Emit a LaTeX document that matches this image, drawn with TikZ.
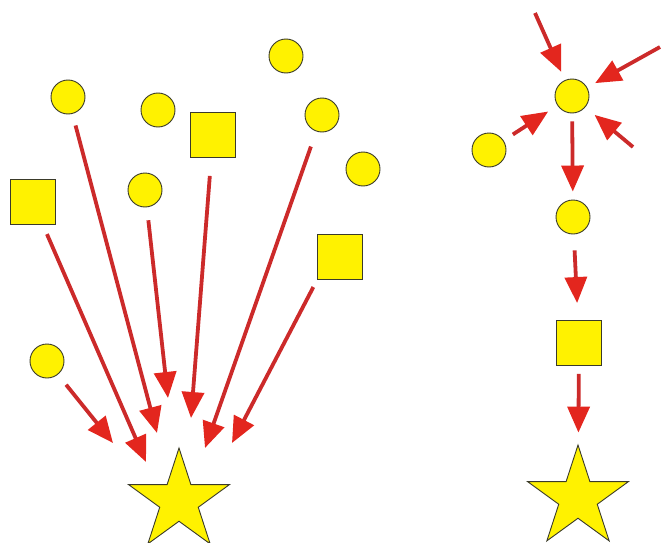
\documentclass[tikz,border=0pt]{standalone}
\usetikzlibrary{shapes.geometric,arrows.meta}
\definecolor{shapeyellow}{HTML}{FFF200}
\definecolor{lineRed}{HTML}{CC2A2A}
\definecolor{headRed}{HTML}{E3261E}
\definecolor{edgeGrey}{HTML}{3A3A2A}
\begin{document}
\begin{tikzpicture}[x=1pt,y=-1pt,
  dot/.style={circle,draw=edgeGrey,line width=0.9pt,fill=shapeyellow,minimum size=34pt,inner sep=0pt},
  sq/.style={rectangle,draw=edgeGrey,line width=0.9pt,fill=shapeyellow,minimum size=45pt,inner sep=0pt},
  bigstar/.style={star,star points=5,star point ratio=2.618,draw=edgeGrey,line width=0.9pt,fill=shapeyellow,minimum size=106pt,inner sep=0pt},
  arr/.style={draw=lineRed,line width=3.8pt,-{Triangle[length=26pt,width=22pt,color=headRed,fill=headRed]}}
]
\useasboundingbox (0,0) rectangle (661,543);
% left group
\node[dot] (A) at (68,97) {};
\node[dot] (B) at (158,110) {};
\node[sq]  (C) at (213,135) {};
\node[dot] (D) at (286,56) {};
\node[dot] (E) at (322,115) {};
\node[dot] (F) at (363,169) {};
\node[sq]  (G) at (33,202) {};
\node[dot] (H) at (145,190) {};
\node[sq]  (I) at (340,257) {};
\node[dot] (J) at (47,361) {};
\node[bigstar] (S1) at (179,501) {};
\coordinate (tJ) at (113,443);
\coordinate (tG) at (146,462);
\coordinate (tA) at (157,433);
\coordinate (tH) at (168,398);
\coordinate (tC) at (191,418);
\coordinate (tE) at (205,448);
\coordinate (tI) at (232,443);
\draw[arr,shorten <=13pt] (J) -- (tJ);
\draw[arr,shorten <=10pt] (G) -- (tG);
\draw[arr,shorten <=12pt] (A) -- (tA);
\draw[arr,shorten <=13pt] (H) -- (tH);
\draw[arr,shorten <=18pt] (C) -- (tC);
\draw[arr,shorten <=16pt] (E) -- (tE);
\draw[arr,shorten <=8pt] (I.south west) -- (tI);
% right group
\node[dot] (K) at (572,96) {};
\node[dot] (L) at (489,150) {};
\node[dot] (M) at (573,217) {};
\node[sq]  (N) at (579,343) {};
\node[bigstar] (S2) at (578,498) {};
\coordinate (sTL) at (535,13);
\coordinate (sTR) at (660,47);
\coordinate (sBR) at (633,147);
\draw[arr,shorten >=9pt] (sTL) -- (K);
\draw[arr,shorten >=9pt] (sTR) -- (K);
\draw[arr,shorten >=12pt] (sBR) -- (K);
\draw[arr,shorten <=11pt,shorten >=11pt] (L) -- (K);
\draw[arr,shorten <=8pt,shorten >=8pt] (K) -- (M);
\draw[arr,shorten <=16pt,shorten >=17pt] (M) -- (N);
\draw[arr,shorten <=8pt,shorten >=12pt] (N) -- (S2);
\end{tikzpicture}
\end{document}
